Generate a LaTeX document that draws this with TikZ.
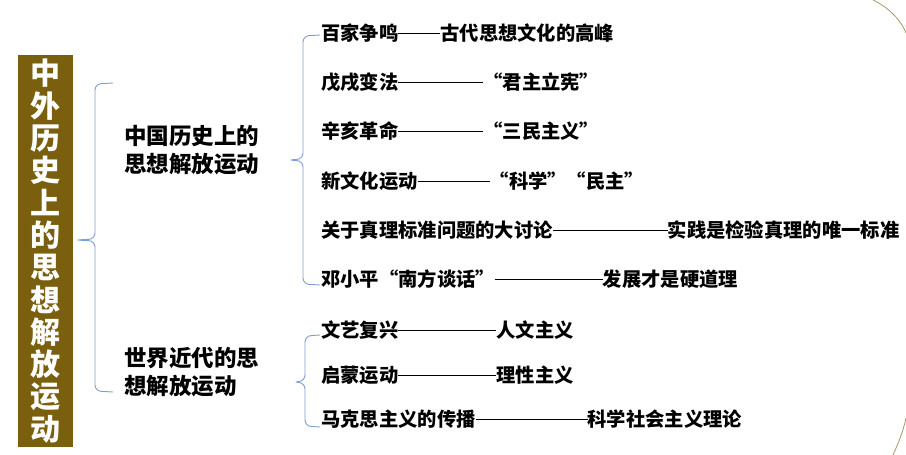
\documentclass[tikz,border=0pt]{standalone}
\usepackage{fontspec}
\setmainfont{Noto Sans CJK SC}
\newcommand\dd[1]{\rule[0.32em]{#1pt}{1.3pt}}
\begin{document}
\begin{tikzpicture}[x=1pt,y=-1pt,
 br/.style={draw=brc,line width=0.9pt,rounded corners=6pt},
 item/.style={anchor=west,inner sep=0pt,font=\bfseries\fontsize{19.3}{20}\selectfont},
 lab/.style={anchor=west,inner sep=0pt,align=left,font=\bfseries\fontsize{22.5}{28}\selectfont}]
\definecolor{brc}{HTML}{7F9ED3}
\definecolor{olive}{HTML}{7A5F0E}
\definecolor{arcc}{HTML}{A89A6A}
\useasboundingbox (0,0) rectangle (906,455);
\fill[white] (0,0) rectangle (906,455);
\node[fill=olive,minimum width=55pt,minimum height=392pt,inner sep=0pt,anchor=north west] (title) at (18,55) {};
\node[text=white,align=center,font=\bfseries\fontsize{30}{32.3}\selectfont,inner sep=0pt] (tt) at (title.center) {中\\外\\历\\史\\上\\的\\思\\想\\解\\放\\运\\动};
\draw[arcc,line width=0.8pt] (873,0) .. controls (890,8) and (902,22) .. (906,33);
\draw[arcc,line width=0.8pt] (906,418) .. controls (903,432) and (898,444) .. (893,455);
% braces
\draw[br] (113,83) -- (95,84) -- (95,239) -- (75,240) -- (95,241) -- (95,391) -- (113,392);
\draw[br] (320,35) -- (303,36) -- (303,159) -- (288,160) -- (303,161) -- (303,284) -- (320,285);
\draw[br] (320,335) -- (305,336) -- (305,381) -- (293,382) -- (305,383) -- (305,426) -- (320,427);
\node[lab] (cn) at (124,150) {中国历史上的\\思想解放运动};
\node[lab] (wd) at (124,372) {世界近代的思\\想解放运动};
\node[item] (i1) at (321,33) {百家争鸣\dd{42}古代思想文化的高峰};
\node[item] (i2) at (321,82) {戊戌变法\dd{85}“君主立宪”};
\node[item] (i3) at (321,131) {辛亥革命\dd{85}“三民主义”};
\node[item] (i4) at (321,181) {新文化运动\dd{72}“科学”“民主”};
\node[item] (i5) at (321,230) {关于真理标准问题的大讨论\dd{115}实践是检验真理的唯一标准};
\node[item] (i6) at (321,279) {邓小平“南方谈话”\dd{108}发展才是硬道理};
\node[item] (i7) at (321,330) {文艺复兴\dd{98}人文主义};
\node[item] (i8) at (321,375) {启蒙运动\dd{98}理性主义};
\node[item] (i9) at (321,419) {马克思主义的传播\dd{112}科学社会主义理论};
\end{tikzpicture}
\end{document}
